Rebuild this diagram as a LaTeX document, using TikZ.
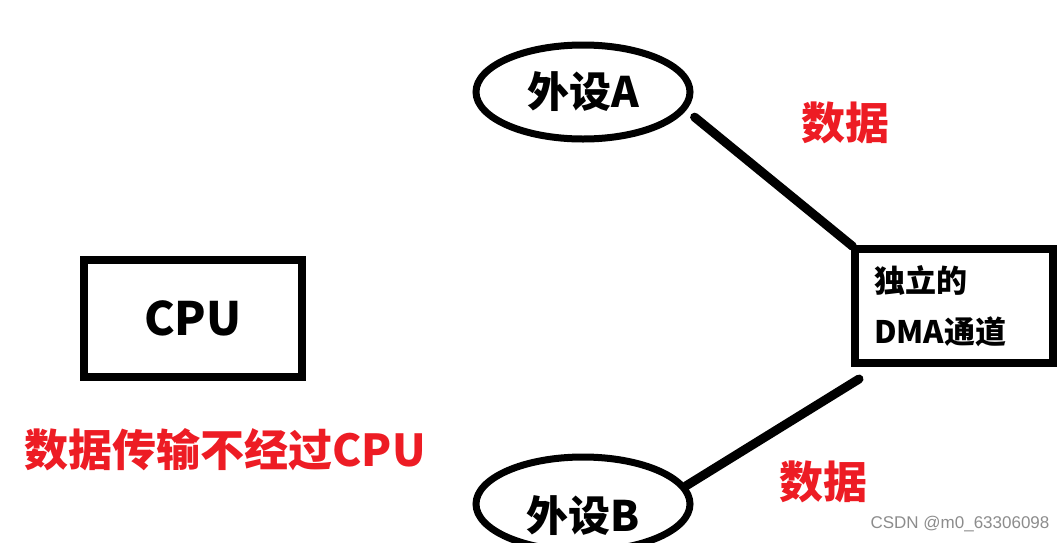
\documentclass[tikz,border=0pt]{standalone}
\usepackage{fontspec}
\newfontfamily\cjk{Noto Sans CJK SC}
\newfontfamily\wmfont{Liberation Sans}
\usetikzlibrary{shapes.geometric}
\definecolor{datared}{RGB}{237,28,36}

\begin{document}
\begin{tikzpicture}[x=1pt, y=-1pt,
  every node/.style={font=\cjk\bfseries},
  box/.style={draw, line width=8pt, inner sep=0pt},
  dev/.style={ellipse, draw, line width=7pt, minimum width=214pt, minimum height=94pt, inner sep=0pt},
  link/.style={line width=9pt, line cap=round},
  note/.style={text=datared, font=\cjk\bfseries\fontsize{44}{50}\selectfont}]
\useasboundingbox (0,0) rectangle (1064,542);
\begin{scope}
\clip (0,0) rectangle (1064,542);
% CPU on the left
\node[box, minimum width=218pt, minimum height=117pt, font=\cjk\bfseries\fontsize{46}{50}\selectfont] (cpu) at (193,318) {CPU};
\node[note, anchor=center] (nocpu) at (225,450) {数据传输不经过CPU};

% the two devices
\node[dev, font=\cjk\bfseries\fontsize{42}{50}\selectfont] (devA) at (583,92) {外设A};
\node[dev, text height=60pt, font=\cjk\bfseries\fontsize{42}{50}\selectfont] (devB) at (583,504) {外设B};

% DMA channel
\node[box, minimum width=194pt, minimum height=114pt, text width=160pt, align=left, inner xsep=19pt,
  font=\cjk\bfseries\fontsize{31}{51}\selectfont] (dma) at (954,306) {\raisebox{-3pt}{独立的}\\\raisebox{-3pt}{DMA通道}};

% data paths
\draw[link, shorten <=11pt, shorten >=-2pt] (devA.-10) -- (dma.north west);
\draw[link] ([shift={(8,12)}]dma.south west) -- (devB.10);
\node[note] (dataA) at (845,123) {数据};
\node[note] (dataB) at (823,482) {数据};

\node[font=\wmfont\fontsize{17}{20}\selectfont, text=black!45] (mark) at (960,524) {CSDN @m0\_63306098};
\end{scope}
\end{tikzpicture}
\end{document}
